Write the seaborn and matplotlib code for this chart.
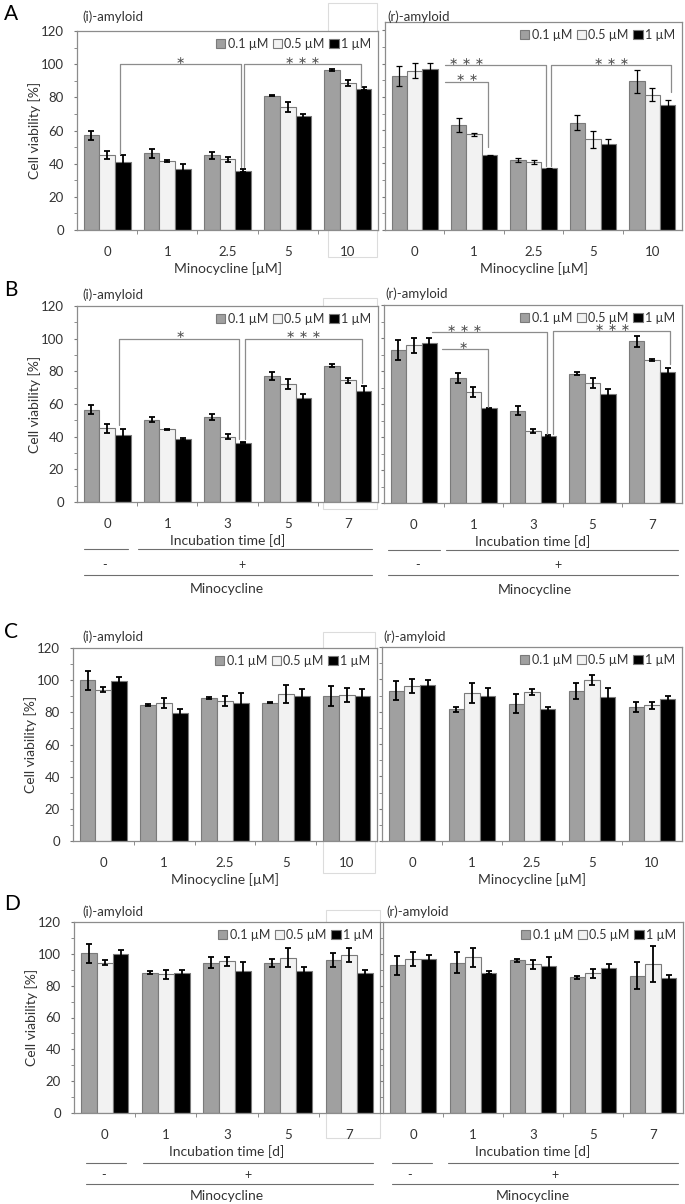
import numpy as np
import pandas as pd
import matplotlib
matplotlib.use("Agg")
import matplotlib.pyplot as plt
from matplotlib.patches import Rectangle
from matplotlib.lines import Line2D
from matplotlib.ticker import MultipleLocator, FixedLocator
import seaborn as sns

# -----------------------------
# Data
# -----------------------------
conc_labels = ["0.1 µM", "0.5 µM", "1 µM"]
mino_ticks = ["0", "1", "2.5", "5", "10"]
time_ticks = ["0", "1", "3", "5", "7"]

# A: minocycline dose
a_i_mean = [[57.2, 46.2, 45.0, 81.1, 96.4], [45.2, 41.8, 42.6, 73.9, 88.4], [41.2, 36.7, 35.7, 68.7, 85.3]]
a_i_err = [[2.8, 2.7, 2.3, 0.5, 0.5], [2.3, 0.5, 1.5, 3.0, 1.8], [3.8, 3.2, 1.0, 1.0, 0.7]]
a_r_mean = [[92.4, 63.0, 42.0, 64.4, 89.4], [95.6, 57.4, 41.0, 54.4, 81.4], [96.6, 44.8, 37.0, 51.6, 75.4]]
a_r_err = [[6.0, 4.3, 1.0, 4.5, 6.8], [4.5, 0.7, 1.3, 5.3, 3.7], [3.5, 0.3, 0.3, 3.3, 3.0]]

# B: incubation time
b_i_mean = [[56.6, 50.5, 52.0, 77.3, 83.4], [45.0, 44.4, 39.9, 72.0, 74.6], [40.9, 38.6, 36.4, 63.4, 68.1]]
b_i_err = [[3.0, 1.5, 2.0, 2.5, 1.0], [2.5, 0.5, 1.5, 3.0, 1.5], [3.5, 0.5, 0.5, 3.0, 3.0]]
b_r_mean = [[92.7, 75.9, 56.0, 78.3, 98.0], [95.7, 67.4, 43.7, 72.5, 86.6], [96.8, 57.3, 40.5, 66.0, 79.1]]
b_r_err = [[6.0, 3.0, 2.5, 1.0, 3.5], [4.5, 3.0, 1.0, 3.0, 0.5], [3.0, 0.5, 0.5, 3.0, 3.0]]

# C: minocycline dose (control)
c_i_mean = [[99.8, 84.4, 89.0, 86.0, 90.2], [94.0, 85.7, 87.1, 91.3, 90.7], [99.2, 79.8, 86.1, 90.2, 90.2]]
c_i_err = [[6.0, 0.5, 0.5, 0.5, 6.0], [1.5, 3.0, 3.0, 5.5, 4.5], [3.0, 2.0, 6.0, 4.0, 4.5]]
c_r_mean = [[93.0, 81.6, 84.9, 93.0, 82.8], [96.0, 91.5, 92.1, 99.4, 83.9], [96.5, 89.4, 81.6, 89.2, 88.0]]
c_r_err = [[6.0, 1.5, 6.0, 5.0, 3.0], [4.5, 6.0, 2.0, 3.0, 2.0], [3.0, 5.5, 1.5, 5.5, 2.0]]

# D: incubation time (control)
d_i_mean = [[100.4, 88.1, 94.4, 94.0, 96.0], [94.4, 87.1, 95.2, 97.5, 99.2], [100.0, 88.1, 89.1, 89.1, 88.1]]
d_i_err = [[6.0, 1.0, 3.5, 2.5, 4.5], [1.5, 3.0, 3.0, 6.0, 4.5], [2.5, 1.5, 6.0, 2.5, 2.0]]
d_r_mean = [[92.9, 94.4, 96.0, 85.2, 86.2], [96.7, 97.7, 93.3, 87.7, 93.5], [96.7, 88.1, 92.3, 91.4, 84.8]]
d_r_err = [[6.0, 6.5, 1.0, 1.0, 8.5], [4.5, 6.0, 3.0, 3.0, 11.5], [2.5, 1.0, 6.0, 2.5, 2.0]]

# significance brackets: (x_left, x_right, y_line, left_leg_bottom, right_leg_bottom, star_x, label)
a_i_sig = [(0.22, 2.22, 100, 46, 38, 1.22, "*"), (2.28, 4.22, 100, 38, 86.5, 3.25, "***")]
a_r_sig = [(0.51, 2.21, 99, None, 38.5, 0.88, "***"), (0.51, 1.23, 89, None, 50, 0.88, "**"),
           (2.29, 4.31, 99, 38.5, 83, 3.32, "***")]
b_i_sig = [(0.20, 2.19, 100, 47, 38.5, 1.21, "*"), (2.29, 4.23, 100, 38.5, 73, 3.26, "***")]
b_r_sig = [(0.31, 2.23, 103.6, None, 42, 0.86, "***"), (0.47, 1.24, 93.3, None, 58, 0.83, "*"),
           (2.34, 4.30, 104.2, 42, 84, 3.33, "***")]

# -----------------------------
# Style
# -----------------------------
W, H = 685, 1204
sns.set_style("ticks")
plt.rcParams["font.family"] = ["Lato", "DejaVu Sans"]
plt.rcParams["axes.edgecolor"] = "#8a8a8a"
plt.rcParams["axes.linewidth"] = 0.9

bar_colors = ["#a0a0a0", "#f2f2f2", "#000000"]
edge_gray = "#7a7a7a"
line_gray = "#8c8c8c"
text_col = "#333333"

fig = plt.figure(figsize=(W / 100, H / 100), dpi=100)


def fx(x):
    return x / W


def fy(y):
    return 1 - y / H


def make_ax(x0, y0, x1, y1):
    return fig.add_axes([fx(x0), fy(y1), (x1 - x0) / W, (y1 - y0) / H])


def draw_panel(ax, means, errs, ticks, ymax, left, xlabel, elw=1.3):
    rows = []
    for ci, lab in enumerate(conc_labels):
        for xi, t in enumerate(ticks):
            rows.append({"x": t, "conc": lab, "v": means[ci][xi]})
    df = pd.DataFrame(rows)
    sns.barplot(data=df, x="x", y="v", hue="conc", order=ticks, hue_order=conc_labels,
                palette=bar_colors, edgecolor=edge_gray, linewidth=0.8, width=0.78,
                errorbar=None, legend=False, ax=ax)
    bars = list(ax.containers)
    for ci, cont in enumerate(bars):
        for xi, bar in enumerate(cont.patches):
            xc = bar.get_x() + bar.get_width() / 2
            ax.errorbar(xc, means[ci][xi], yerr=errs[ci][xi], fmt="none", ecolor="black",
                        elinewidth=elw, capsize=2.3, capthick=elw, zorder=5)
    ax.set_xlim(-0.5, 4.5)
    ax.set_ylim(0, ymax)
    ax.yaxis.set_major_locator(FixedLocator([0, 20, 40, 60, 80, 100, 120]))
    ax.yaxis.set_minor_locator(MultipleLocator(10))
    ax.xaxis.set_minor_locator(FixedLocator([0.5, 1.5, 2.5, 3.5]))
    ax.tick_params(axis="x", which="major", length=0, pad=11.5, labelsize=9.5, colors=text_col)
    ax.tick_params(axis="x", which="minor", length=3, color=edge_gray, direction="out")
    ax.tick_params(axis="y", which="both", length=2.5, color=edge_gray, direction="out",
                   pad=7, labelsize=9.5, labelcolor=text_col)
    for s in ax.spines.values():
        s.set_visible(True)
        s.set_color(line_gray)
    if left:
        ax.set_ylabel("Cell viability [%]", fontsize=10, color=text_col, labelpad=0)
    else:
        ax.set_ylabel("")
        ax.tick_params(axis="y", labelleft=False)
    ax.set_xlabel(xlabel, fontsize=10, color=text_col, labelpad=3)
    handles = [c.patches[0] for c in bars]
    ax.legend(handles, conc_labels, loc="upper right", ncol=3, frameon=False, fontsize=9,
              handlelength=0.75, handleheight=0.75, handletextpad=0.2, columnspacing=0.35,
              borderaxespad=0.25, borderpad=0.3, labelcolor=text_col)


def draw_sig(ax, sigs):
    for xl, xr, yl, lb, rb, sx, lab in sigs:
        xs, ys = [xl, xr], [yl, yl]
        if lb is not None:
            xs, ys = [xl] + xs, [lb] + ys
        xs, ys = xs + [xr], ys + [rb]
        ax.plot(xs, ys, color=line_gray, lw=0.9, zorder=6)
        ax.text(sx, yl + 0.3, " ".join(["∗"] * len(lab)), ha="center", va="baseline", fontsize=8,
                family="DejaVu Sans", color="#555555")


def gray_box(x0, y0, x1, y1):
    fig.add_artist(Rectangle((fx(x0), fy(y1)), (x1 - x0) / W, (y1 - y0) / H,
                             transform=fig.transFigure, fill=False, ec="#dcdcdc", lw=0.8, zorder=0))


def fig_line(x0, x1, y, color="#6e6e6e"):
    fig.add_artist(Line2D([fx(x0), fx(x1)], [fy(y), fy(y)], transform=fig.transFigure,
                          color=color, lw=0.8))


def fig_text(x, y, s, size=10, **kw):
    fig.text(fx(x), fy(y), s, fontsize=size, ha=kw.pop("ha", "center"), va=kw.pop("va", "center"),
             color=kw.pop("color", text_col), **kw)


def treatment_rows(x0, xs_end, xl_start, x1, y_top, y_bot, y_sign, minus_x, plus_x, y_lab, lab_x):
    fig_line(x0, xs_end, y_top)
    fig_line(xl_start, x1, y_top)
    fig_text(minus_x, y_sign, "-", size=9)
    fig_text(plus_x, y_sign, "+", size=9)
    fig_line(x0, x1, y_bot)
    fig_text(lab_x, y_lab, "Minocycline")


# light gray frames behind the 10 / 7 groups
gray_box(328, 3, 377, 257)
gray_box(323, 298, 377, 509)
gray_box(323, 632, 375, 873)
gray_box(326, 910, 380, 1138)

# -----------------------------
# Panels
# -----------------------------
ax = make_ax(77, 31, 378, 230)
draw_panel(ax, a_i_mean, a_i_err, mino_ticks, 120, True, "Minocycline [µM]")
draw_sig(ax, a_i_sig)
ax = make_ax(385, 22, 682, 230)
draw_panel(ax, a_r_mean, a_r_err, mino_ticks, 125, False, "Minocycline [µM]", elw=0.9)
draw_sig(ax, a_r_sig)

ax = make_ax(77, 306, 378, 502)
draw_panel(ax, b_i_mean, b_i_err, time_ticks, 120, True, "Incubation time [d]")
draw_sig(ax, b_i_sig)
ax = make_ax(384, 305, 682, 503)
draw_panel(ax, b_r_mean, b_r_err, time_ticks, 120, False, "Incubation time [d]")
draw_sig(ax, b_r_sig)

ax = make_ax(73, 648, 377, 841)
draw_panel(ax, c_i_mean, c_i_err, mino_ticks, 120, True, "Minocycline [µM]")
ax = make_ax(382, 647, 682, 841)
draw_panel(ax, c_r_mean, c_r_err, mino_ticks, 120, False, "Minocycline [µM]")

ax = make_ax(74, 922, 380, 1113)
draw_panel(ax, d_i_mean, d_i_err, time_ticks, 120, True, "Incubation time [d]")
ax = make_ax(383, 922, 683, 1113)
draw_panel(ax, d_r_mean, d_r_err, time_ticks, 120, False, "Incubation time [d]")

# subplot titles and panel letters
for x, y, s in [(82, 17, "(i)-amyloid"), (387, 17, "(r)-amyloid"),
                (82, 295, "(i)-amyloid"), (385, 294, "(r)-amyloid"),
                (82, 637, "(i)-amyloid"), (383, 637, "(r)-amyloid"),
                (82, 912, "(i)-amyloid"), (386, 912, "(r)-amyloid")]:
    fig_text(x, y, s, size=9.5, ha="left")
for y, s in [(14, "A"), (290, "B"), (632, "C"), (904, "D")]:
    fig_text(4, y, s, size=15, ha="left", color="black")

# -/+ minocycline rows
treatment_rows(84, 128, 138, 372, 549, 575, 565, 105, 242, 589, 227)
treatment_rows(388, 440, 446, 678, 550, 575, 565, 418, 558, 590, 535)
treatment_rows(86, 126, 143, 373, 1163, 1184, 1175, 104, 248, 1196, 227)
treatment_rows(392, 432, 448, 678, 1163, 1184, 1175, 410, 555, 1196, 533)

fig.savefig("out.png", dpi=100, facecolor="white")
